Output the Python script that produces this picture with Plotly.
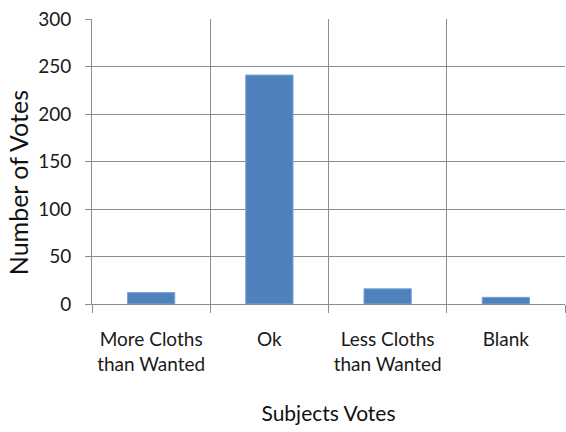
import plotly.graph_objects as go

categories = ["More Cloths<br>than Wanted", "Ok", "Less Cloths<br>than Wanted", "Blank"]
votes = [12, 241, 16, 7]
y_ticks = [0, 50, 100, 150, 200, 250, 300]

font_family = "Lato, 'Open Sans', sans-serif"

fig = go.Figure(
    go.Bar(
        x=categories,
        y=votes,
        marker=dict(color="#4F81BD", line=dict(color="#7FA3D3", width=1)),
        width=0.4,
        hoverinfo="skip",
    )
)

fig.update_layout(
    width=566,
    height=432,
    margin=dict(l=92, r=1, t=19, b=128),
    paper_bgcolor="white",
    plot_bgcolor="white",
    showlegend=False,
    font=dict(family=font_family, size=19, color="#1a1a1a"),
    xaxis=dict(
        type="category",
        tickson="boundaries",
        automargin=False,
        showgrid=True,
        gridcolor="#8c8c8c",
        gridwidth=1,
        ticks="outside",
        ticklen=8,
        tickcolor="#8c8c8c",
        showline=True,
        linecolor="#8c8c8c",
        ticklabelstandoff=18,
        tickfont=dict(size=19, family=font_family, color="#1a1a1a"),
        title=dict(text="Subjects Votes", font=dict(size=21, family=font_family, color="#111"), standoff=32),
    ),
    yaxis=dict(
        range=[0, 300],
        tickvals=y_ticks,
        automargin=False,
        showgrid=True,
        gridcolor="#8c8c8c",
        gridwidth=1,
        ticks="outside",
        ticklen=6,
        tickcolor="#8c8c8c",
        showline=True,
        linecolor="#8c8c8c",
        zeroline=False,
        ticklabelstandoff=10,
        tickfont=dict(size=19, family=font_family, color="#1a1a1a"),
    ),
    annotations=[
        dict(
            text="Number of Votes",
            xref="paper", yref="paper",
            x=-0.156, y=0.4246,
            xanchor="center", yanchor="middle",
            textangle=-90,
            showarrow=False,
            font=dict(size=25, family=font_family, color="#111"),
        )
    ],
)

fig.write_html(
    "out.html",
    config={"displayModeBar": False},
    post_script="document.body.style.margin='0';document.body.style.overflow='hidden';",
)
